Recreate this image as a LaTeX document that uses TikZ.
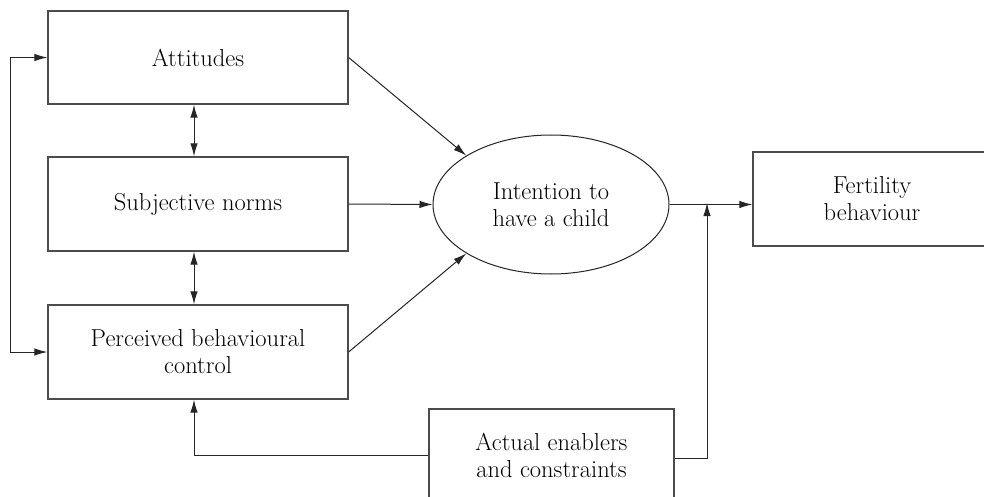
\documentclass[tikz,border=0pt]{standalone}
\usetikzlibrary{arrows.meta,shapes.geometric}
\begin{document}
\begin{tikzpicture}[x=1pt,y=-1pt,
  every node/.style={font=\fontsize{24.5}{27}\selectfont, align=center, inner sep=0pt, text=black},
  box/.style={draw=black!70, line width=1.3pt, rectangle},
  oval/.style={draw=black!85, line width=1pt, ellipse},
  conn/.style={draw=black!85, line width=1pt},
  arr/.style={conn, -{Latex[length=13pt,width=7.5pt]}},
  darr/.style={conn, {Latex[length=13pt,width=7.5pt]}-{Latex[length=13pt,width=7.5pt]}}]
\useasboundingbox (0,0) rectangle (984,497);
\clip (0,0) rectangle (984,497);
\fill[white] (0,0) rectangle (984,497);
\node[box, minimum width=300pt, minimum height=93pt] (att) at (198,57.5) {Attitudes};
\node[box, minimum width=300pt, minimum height=94pt] (sn) at (198,204) {Subjective norms};
\node[box, minimum width=300pt, minimum height=94pt] (pbc) at (198,352) {Perceived behavioural\\control};
\node[oval, minimum width=236pt, minimum height=139pt] (int) at (551,204.5) {Intention to\\have a child};
\node[box, minimum width=238pt, minimum height=94pt] (fert) at (872,199) {Fertility\\behaviour};
\node[box, minimum width=245pt, minimum height=92pt] (act) at (551.5,455) {Actual enablers\\and constraints};
\coordinate (j) at (707,205);
\draw[darr] (att.west) -- ++(-37,0) |- (pbc.west);
\draw[darr] ([xshift=-4pt]att.south) -- ([xshift=-4pt]sn.north);
\draw[darr] ([xshift=-4pt]sn.south) -- ([xshift=-4pt]pbc.north);
\draw[arr] (att.east) -- (int.150);
\draw[arr] (sn.east) -- (int.west);
\draw[arr] (pbc.east) -- (int.210);
\draw[arr] (int.east) -- (fert.west |- int.east);
\draw[arr] (act.west) -| ([xshift=-4pt]pbc.south);
\draw[arr] ([yshift=-3pt]act.east) -| ([yshift=2pt]j);
\end{tikzpicture}
\end{document}
